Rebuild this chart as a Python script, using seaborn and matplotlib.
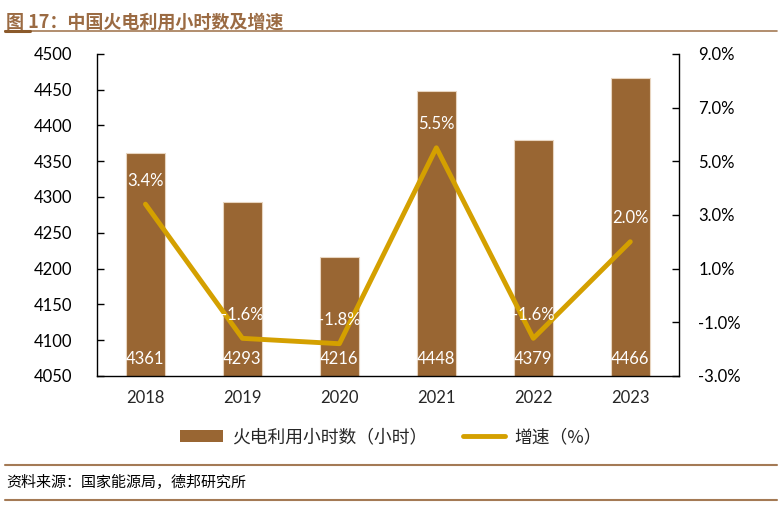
import matplotlib
matplotlib.use('Agg')
import matplotlib.pyplot as plt
import seaborn as sns
import numpy as np
import pandas as pd
from matplotlib.lines import Line2D
from matplotlib.patches import Patch

# 数据
years = ['2018', '2019', '2020', '2021', '2022', '2023']
hours = [4361, 4293, 4216, 4448, 4379, 4466]
growth = [3.4, -1.6, -1.8, 5.5, -1.6, 2.0]

bar_color = '#996633'
line_color = '#D4A000'
brown = '#A47A55'

sns.set_theme(style='white')
plt.rcParams['font.family'] = ['Lato', 'Noto Sans CJK SC', 'DejaVu Sans']
plt.rcParams['axes.unicode_minus'] = False

df = pd.DataFrame({'year': years, 'hours': hours, 'growth': growth})
df['pos'] = np.arange(len(df))

fig = plt.figure(figsize=(7.82, 5.08), dpi=100)
ax = fig.add_axes([0.124, 0.260, 0.744, 0.634])

sns.barplot(data=df, x='year', y='hours', color=bar_color, saturation=1,
            width=0.4, edgecolor='#E8D5C0', linewidth=0.8, ax=ax)
ax.set_ylim(4050, 4500)
ax.set_yticks(range(4050, 4501, 50))
ax.set_xlim(-0.5, len(years) - 0.5)
ax.set_xlabel('')
ax.set_ylabel('')

for i, v in enumerate(hours):
    ax.text(i, 4062, str(v), ha='center', va='bottom', color='white', fontsize=12)

ax2 = ax.twinx()
sns.lineplot(data=df, x='pos', y='growth', color=line_color, linewidth=3.5,
             ax=ax2, legend=False)
ax2.set_ylim(-3, 9)
ax2.set_yticks(np.arange(-3, 9.1, 2))
ax2.set_yticklabels([f'{t:.1f}%' for t in np.arange(-3, 9.1, 2)])
ax2.set_ylabel('')
ax2.set_xlabel('')
ax2.set_xlim(-0.5, len(years) - 0.5)

for i, g in enumerate(growth):
    ax2.text(i, g + 0.88, f'{g:.1f}%', ha='center', va='center', color='white', fontsize=12)

# 坐标轴样式
for a in (ax, ax2):
    a.spines['top'].set_visible(False)
    for s in ['left', 'right', 'bottom']:
        a.spines[s].set_color('black')
        a.spines[s].set_linewidth(1.0)
ax.spines['right'].set_visible(False)
ax2.spines['left'].set_visible(False)
ax2.spines['bottom'].set_visible(False)

ax.tick_params(axis='y', direction='in', length=5, width=1, labelsize=12, pad=18, colors='black')
ax2.tick_params(axis='y', direction='in', length=5, width=1, labelsize=12, pad=14, colors='black')
ax.tick_params(axis='x', which='major', length=0, labelsize=12, pad=10)
ax.set_xticks(np.arange(len(years)))
ax.set_xticklabels(years)
ax.set_xticks(np.arange(len(years) + 1) - 0.5, minor=True)
ax.tick_params(axis='x', which='minor', direction='in', length=5, width=1, color='black')

# 标题与来源
fig.text(0.008, 0.975, '图 17：中国火电利用小时数及增速', color='#9B6B43', fontsize=13,
         fontweight='bold', ha='left', va='top', family=['Noto Sans CJK SC', 'DejaVu Sans'])
fig.add_artist(Line2D([0.006, 0.994], [0.939, 0.939], color=brown, linewidth=1.2))
fig.add_artist(Line2D([0.006, 0.038], [0.939, 0.939], color='#8B5A2B', linewidth=2.2))
fig.add_artist(Line2D([0.006, 0.994], [0.085, 0.085], color=brown, linewidth=1.5))
fig.add_artist(Line2D([0.006, 0.994], [0.016, 0.016], color=brown, linewidth=1.5))
fig.text(0.008, 0.050, '资料来源：国家能源局，德邦研究所', color='black', fontsize=10.8,
         ha='left', va='center', family=['Noto Sans CJK SC', 'DejaVu Sans'])

handles = [Patch(facecolor=bar_color, edgecolor='none'),
           Line2D([0], [0], color=line_color, linewidth=3.5)]
fig.legend(handles, ['火电利用小时数（小时）', '增速（%）'], loc='center',
           bbox_to_anchor=(0.5, 0.139), ncol=2, frameon=False,
           handlelength=2.4, handleheight=0.6, columnspacing=2.0, handletextpad=0.5,
           prop={'family': ['Noto Sans CJK SC', 'DejaVu Sans'], 'size': 12.8})

fig.savefig('out.png', dpi=100)
